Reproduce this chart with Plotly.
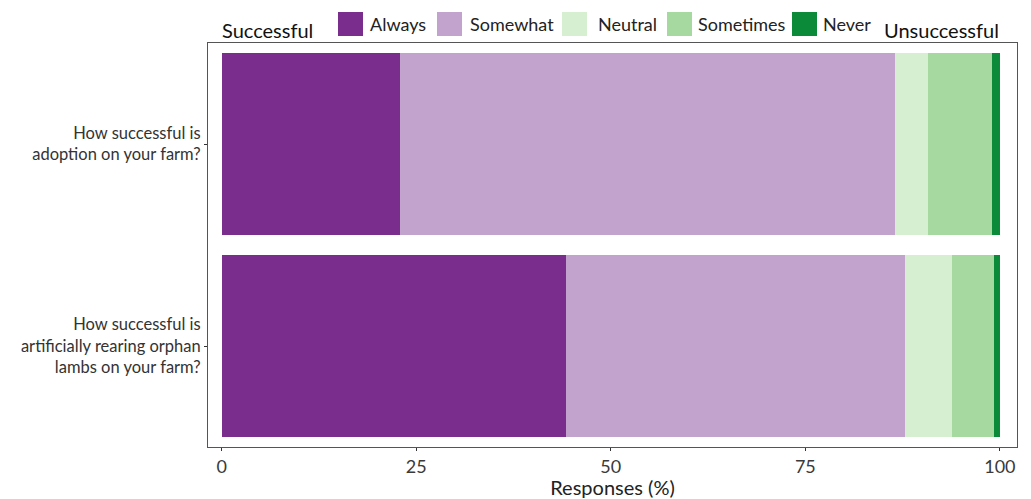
import plotly.graph_objects as go

# ---- data ----
questions = [
    "How successful is<br>adoption on your farm?",
    "How successful is<br>artificially rearing orphan<br>lambs on your farm?",
]
categories = ["Always", "Somewhat", "Neutral", "Sometimes", "Never"]
always = [22.9, 44.3]
somewhat = [63.6, 43.5]
neutral = [4.3, 6.1]
sometimes = [8.2, 5.3]
never = [1.0, 0.8]
x_ticks = [0, 25, 50, 75, 100]

colors = ["#7b2d8e", "#c2a3cd", "#d6efd1", "#a5d9a0", "#0b8a3a"]
series = [always, somewhat, neutral, sometimes, never]

W, H = 1031, 499
L, R, T, B = 208, 14, 43, 52
pw, ph = W - L - R, H - T - B


def px2x(px):
    return (px - L) / pw


def px2y(py):
    return (H - B - py) / ph


fig = go.Figure()
for name, vals, col in zip(categories, series, colors):
    fig.add_trace(go.Bar(
        y=questions, x=vals, name=name, orientation="h",
        marker=dict(color=col, line=dict(width=0)), width=0.9,
        showlegend=False,
    ))

font_family = "Lato"
shapes = []
annotations = []

# custom legend above the plot
legend_sq = [338, 437, 562, 667, 792]
legend_txt = [368, 468, 596, 696, 821]
for name, col, sx, tx in zip(categories, colors, legend_sq, legend_txt):
    shapes.append(dict(type="rect", xref="paper", yref="paper",
                       x0=px2x(sx), x1=px2x(sx + 25), y0=px2y(36), y1=px2y(12),
                       fillcolor=col, line=dict(width=0)))
    annotations.append(dict(text=name, xref="paper", yref="paper",
                            x=px2x(tx), y=px2y(24), xanchor="left", yanchor="middle",
                            showarrow=False,
                            font=dict(family=font_family, size=18, color="#222222")))

annotations.append(dict(text="Successful", xref="paper", yref="paper",
                        x=px2x(220), y=px2y(30), xanchor="left", yanchor="middle",
                        showarrow=False,
                        font=dict(family=font_family, size=20, color="#111111")))
annotations.append(dict(text="Unsuccessful", xref="paper", yref="paper",
                        x=px2x(1001), y=px2y(30), xanchor="right", yanchor="middle",
                        showarrow=False,
                        font=dict(family=font_family, size=20, color="#111111")))

fig.update_layout(
    width=W, height=H,
    margin=dict(l=L, r=R, t=T, b=B, autoexpand=False),
    barmode="stack",
    plot_bgcolor="white", paper_bgcolor="white",
    font=dict(family=font_family, color="#333333"),
    shapes=shapes, annotations=annotations,
    showlegend=False,
)
fig.update_xaxes(
    range=[-1.76, 102.2], tickvals=x_ticks, ticktext=[str(v) for v in x_ticks],
    showgrid=False, zeroline=False,
    showline=True, mirror=True, linecolor="#555555", linewidth=1,
    ticks="outside", ticklen=3, tickcolor="#333333",
    tickfont=dict(family=font_family, size=18, color="#3a3a3a"),
    title=dict(text="Responses (%)", standoff=4,
               font=dict(family=font_family, size=20, color="#222222")),
)
fig.update_yaxes(
    range=[1.5, -0.5], categoryorder="array", categoryarray=questions,
    showgrid=False, zeroline=False,
    showline=True, mirror=True, linecolor="#555555", linewidth=1,
    ticks="outside", ticklen=3, tickcolor="#333333",
    tickfont=dict(family=font_family, size=16.5, color="#333333"),
)

fig.write_html(
    "out.html",
    config={"displayModeBar": False},
    post_script="document.body.style.margin='0';document.body.style.overflow='hidden';",
)
